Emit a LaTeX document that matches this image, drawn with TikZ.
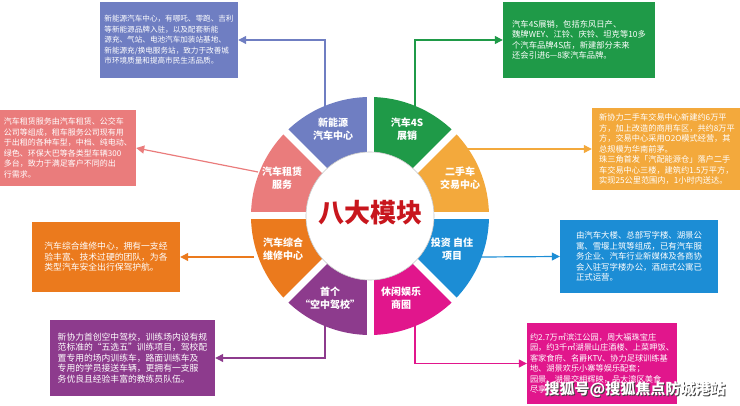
\documentclass[tikz,border=0pt]{standalone}
\usepackage{fontspec}
\newfontfamily\cjk{Noto Sans CJK SC}
\usetikzlibrary{arrows.meta}
\definecolor{cnev}{HTML}{6F7EC2}
\definecolor{cfours}{HTML}{1F9A48}
\definecolor{cused}{HTML}{F3A93C}
\definecolor{cinv}{HTML}{1C8DD5}
\definecolor{cleis}{HTML}{E1168C}
\definecolor{cschool}{HTML}{8D3B8D}
\definecolor{crepair}{HTML}{EB7A1D}
\definecolor{crent}{HTML}{EA7C7C}
\definecolor{cred}{HTML}{C8161D}

\begin{document}
\begin{tikzpicture}[x=1pt,y=1pt,
    seg/.style={text=white,align=center,font=\cjk\bfseries\fontsize{10}{12.5}\selectfont},
    info/.style={text=white,inner sep=0pt,align=left,font=\cjk\fontsize{#1}{10.5}\selectfont},
    link/.style={line width=1.2pt,-{Triangle[length=8pt,width=8pt]}}]
    \useasboundingbox (0,0) rectangle (740,-406);

    % ring of eight modules
    \begin{scope}[shift={(370,-216)}]
        \foreach \a/\c in {90/cnev,45/cfours,0/cused,-45/cinv,-90/cleis,-135/cschool,180/crepair,135/crent}
            \fill[\c] (\a:119) arc[start angle=\a,delta angle=45,radius=119]
                -- (\a+45:64) arc[start angle=\a+45,delta angle=-45,radius=64] -- cycle;
        \foreach \a in {0,45,...,315}
            \draw[white,line width=7pt] (0,0) -- (\a:122);
        \draw[gray!45,fill=white,line width=0.6pt] (0,0) circle[radius=64];
    \end{scope}
    \node[text=cred,font=\cjk\bfseries\fontsize{26}{26}\selectfont] (title) at (370,-213) {八大模块};

    \node[seg] (lnev)    at (333,-129) {新能源\\汽车中心};
    \node[seg] (lfours)  at (407,-129) {汽车4S\\展销};
    \node[seg] (lused)   at (460,-178) {二手车\\交易中心};
    \node[seg] (linv)    at (452,-249) {投资 自住\\项目};
    \node[seg] (lleis)   at (401,-298) {休闲娱乐\\商圈};
    \node[seg] (lschool) at (330,-298) {首个\\“空中驾校”};
    \node[seg] (lrepair) at (283,-249) {汽车综合\\维修中心};
    \node[seg] (lrent)   at (282,-178) {汽车租赁\\服务};

    % text boxes
    \node[info=7.6,fill=cnev,minimum width=138,minimum height=76] (nev) at (169,-40)
        {新能源汽车中心，有哪吒、零跑、吉利\\等新能源品牌入驻，以及配套新能\\源充、气站、电池汽车加装站基地、\\新能源充/换电服务站，致力于改善城\\市环境质量和提高市民生活品质。};
    \node[info=8.3,fill=cfours,minimum width=152,minimum height=76] (fours) at (579,-40)
        {汽车4S展销，包括东风日产、\\魏牌WEY、江铃、庆铃、坦克等10多\\个汽车品牌4S店，新建部分未来\\还会引进6—8家汽车品牌。};
    \node[info=8,fill=crent,minimum width=136,minimum height=76] (rent) at (68,-148)
        {汽车租赁服务由汽车租赁、公交车\\公司等组成，租车服务公司现有用\\于出租的各种车型，中档、纯电动、\\绿色、环保大巴等各类型车辆300\\多台，致力于满足客户不同的出\\行需求。};
    \node[info=8.2,fill=cused,minimum width=150,minimum height=82] (used) at (667,-149)
        {新协力二手车交易中心新建约6万平\\方，加上改造的商用车区，共约8万平\\方，交易中心采用O2O模式经营，其\\总规模为华南前茅。\\珠三角首发「汽配能源仓」落户二手\\车交易中心三楼，建筑约1.5万平方，\\实现25公里范围内，1小时内送达。};
    \node[info=8.8,fill=crepair,minimum width=148,minimum height=70] (repair) at (106,-257)
        {汽车综合维修中心，拥有一支经\\验丰富、技术过硬的团队，为各\\类型汽车安全出行保驾护航。};
    \node[info=8.4,fill=cinv,minimum width=158,minimum height=73] (inv) at (639,-256.5)
        {由汽车大楼、总部写字楼、湖景公\\寓、雪堰上筑等组成，已有汽车服\\务企业、汽车行业新媒体及各商协\\会入驻写字楼办公，酒店式公寓已\\正式运营。};
    \node[info=8.8,fill=cschool,minimum width=165,minimum height=76] (school) at (132.5,-358)
        {新协力首创空中驾校，训练场内设有规\\范标准的“五选五”训练项目，驾校配\\置专用的场内训练车，路面训练车及\\专用的学员接送车辆，更拥有一支服\\务优良且经验丰富的教练员队伍。};
    \node[info=8.2,fill=cleis,minimum width=150,minimum height=81] (leis) at (602,-363.5)
        {约2.7万㎡滨江公园，周大福珠宝庄\\园，约3千㎡湖景山庄酒楼、上菜呷饭、\\客家食府、名爵KTV、协力足球训练基\\地、湖景欢乐小寨等娱乐配套；\\园景、湖景交相辉映，品大湾区美食\\尽享};

    % connectors
    \coordinate (pnev)    at (325,-106);
    \coordinate (pfours)  at (415,-106);
    \coordinate (pused)   at (467,-149);
    \coordinate (pinv)    at (481,-257);
    \coordinate (pleis)   at (415,-326);
    \coordinate (pschool) at (325,-326);
    \coordinate (prepair) at (254,-257);
    \coordinate (prent)   at (258,-172);
    \draw[link,cnev]    (pnev) |- (nev.east);
    \draw[link,cfours]  (pfours) |- (fours.west);
    \draw[link,cused]   (pused) -- (used.west);
    \draw[link,cinv]    (pinv) -- (inv.west);
    \draw[link,cleis]   (pleis) |- (leis.west);
    \draw[link,cschool] (pschool) |- (school.east);
    \draw[link,crepair] (prepair) -- (repair.east);
    \draw[link,crent]   (prent) -- (rent.east);

    % watermark
    \node[text=black!75,font=\cjk\bfseries\fontsize{15}{15}\selectfont] (wmshade) at (636,-391) {搜狐号@搜狐焦点防城港站};
    \node[text=white,font=\cjk\bfseries\fontsize{15}{15}\selectfont] (wm) at (635,-390) {搜狐号@搜狐焦点防城港站};
\end{tikzpicture}
\end{document}
